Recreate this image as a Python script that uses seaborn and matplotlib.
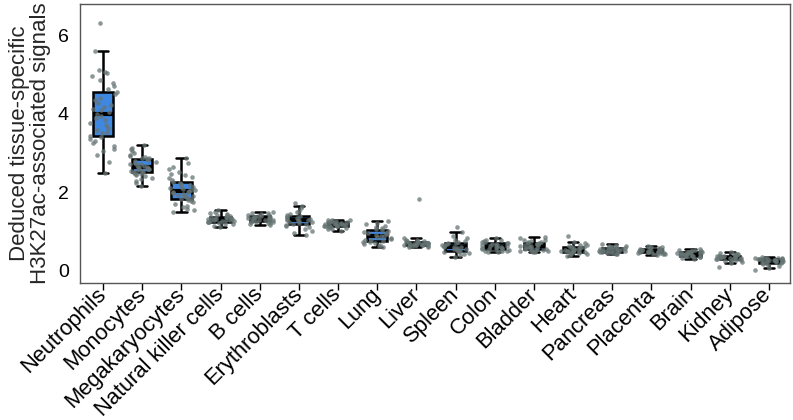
import numpy as np
import pandas as pd
import matplotlib
matplotlib.use("Agg")
import matplotlib.pyplot as plt
import seaborn as sns

categories = ["Neutrophils", "Monocytes", "Megakaryocytes", "Natural killer cells",
              "B cells", "Erythroblasts", "T cells", "Lung", "Liver", "Spleen",
              "Colon", "Bladder", "Heart", "Pancreas", "Placenta", "Brain",
              "Kidney", "Adipose"]

neutrophils = [2.49, 2.78, 2.95, 3.05, 3.1, 3.18, 3.25, 3.3, 3.35, 3.4, 3.44, 3.5, 3.55, 3.6,
               3.65, 3.72, 3.78, 3.85, 3.9, 3.95, 4.0, 4.05, 4.1, 4.12, 4.18, 4.22, 4.28, 4.35,
               4.42, 4.5, 4.57, 4.65, 4.72, 4.8, 4.88, 4.98, 5.05, 5.08, 5.12, 5.62, 6.34]
monocytes = [2.16, 2.22, 2.28, 2.33, 2.37, 2.4, 2.43, 2.45, 2.47, 2.49, 2.5, 2.52, 2.54, 2.55,
             2.57, 2.58, 2.59, 2.6, 2.61, 2.62, 2.63, 2.65, 2.67, 2.69, 2.71, 2.73, 2.75, 2.77,
             2.79, 2.82, 2.84, 2.86, 2.88, 2.9, 2.93, 2.96, 3.0, 3.04, 3.09, 3.14, 3.2]
megakaryocytes = [1.49, 1.53, 1.57, 1.61, 1.65, 1.7, 1.74, 1.77, 1.79, 1.81, 1.83, 1.85, 1.87,
                  1.89, 1.91, 1.93, 1.95, 1.97, 1.99, 2.0, 2.02, 2.04, 2.06, 2.08, 2.1, 2.12,
                  2.14, 2.17, 2.2, 2.22, 2.25, 2.3, 2.35, 2.39, 2.43, 2.47, 2.52, 2.58, 2.65,
                  2.74, 2.87]
nk_cells = [1.10, 1.14, 1.17, 1.19, 1.21, 1.22, 1.23, 1.24, 1.25, 1.26, 1.27, 1.28, 1.29, 1.29,
            1.30, 1.31, 1.32, 1.33, 1.34, 1.35, 1.36, 1.37, 1.38, 1.40, 1.42, 1.44, 1.47, 1.50, 1.54]
b_cells = [1.15, 1.18, 1.20, 1.21, 1.22, 1.23, 1.24, 1.25, 1.26, 1.27, 1.28, 1.29, 1.30, 1.31,
           1.32, 1.33, 1.33, 1.34, 1.35, 1.36, 1.37, 1.38, 1.39, 1.40, 1.42, 1.43, 1.45, 1.47, 1.50]
erythroblasts = [0.89, 0.95, 1.00, 1.05, 1.09, 1.12, 1.15, 1.17, 1.19, 1.21, 1.23, 1.24, 1.26,
                 1.27, 1.28, 1.29, 1.31, 1.32, 1.34, 1.35, 1.37, 1.38, 1.41, 1.44, 1.48, 1.52,
                 1.58, 1.65, 1.73]
t_cells = [1.01, 1.04, 1.06, 1.08, 1.09, 1.10, 1.11, 1.12, 1.13, 1.14, 1.14, 1.15, 1.16, 1.16,
           1.17, 1.18, 1.18, 1.19, 1.20, 1.20, 1.21, 1.22, 1.23, 1.24, 1.25, 1.26, 1.27, 1.28, 1.29]
lung = [0.58, 0.62, 0.65, 0.67, 0.69, 0.71, 0.73, 0.74, 0.76, 0.78, 0.80, 0.82, 0.84, 0.86,
        0.88, 0.90, 0.92, 0.94, 0.96, 0.98, 1.00, 1.02, 1.04, 1.07, 1.10, 1.13, 1.17, 1.21, 1.26]
liver = [0.58, 0.60, 0.61, 0.62, 0.62, 0.63, 0.63, 0.64, 0.64, 0.65, 0.65, 0.66, 0.66, 0.66,
         0.67, 0.68, 0.68, 0.69, 0.70, 0.70, 0.71, 0.72, 0.73, 0.74, 0.75, 0.76, 0.78, 0.81, 1.82]
spleen = [0.33, 0.38, 0.41, 0.44, 0.46, 0.48, 0.49, 0.50, 0.52, 0.53, 0.54, 0.55, 0.56, 0.58,
          0.59, 0.60, 0.62, 0.63, 0.65, 0.67, 0.68, 0.70, 0.72, 0.75, 0.78, 0.82, 0.88, 0.97, 1.11]
colon = [0.45, 0.47, 0.48, 0.49, 0.50, 0.51, 0.52, 0.53, 0.54, 0.55, 0.56, 0.57, 0.58, 0.59,
         0.60, 0.61, 0.62, 0.63, 0.65, 0.66, 0.67, 0.68, 0.69, 0.71, 0.72, 0.74, 0.76, 0.78, 0.81]
bladder = [0.45, 0.47, 0.48, 0.49, 0.50, 0.51, 0.52, 0.53, 0.54, 0.55, 0.56, 0.57, 0.58, 0.60,
           0.61, 0.62, 0.63, 0.64, 0.66, 0.67, 0.68, 0.70, 0.71, 0.73, 0.74, 0.76, 0.78, 0.81, 0.84]
heart = [0.36, 0.39, 0.41, 0.42, 0.43, 0.44, 0.45, 0.46, 0.47, 0.48, 0.49, 0.50, 0.50, 0.51,
         0.52, 0.53, 0.54, 0.55, 0.56, 0.57, 0.58, 0.59, 0.60, 0.62, 0.63, 0.65, 0.68, 0.72, 0.87]
pancreas = [0.40, 0.42, 0.43, 0.44, 0.45, 0.46, 0.46, 0.47, 0.48, 0.49, 0.49, 0.50, 0.50, 0.51,
            0.52, 0.53, 0.53, 0.54, 0.55, 0.55, 0.56, 0.57, 0.58, 0.59, 0.60, 0.61, 0.62, 0.64, 0.66]
placenta = [0.38, 0.40, 0.41, 0.42, 0.43, 0.44, 0.44, 0.45, 0.46, 0.46, 0.47, 0.47, 0.48, 0.48,
            0.49, 0.50, 0.50, 0.51, 0.51, 0.52, 0.52, 0.53, 0.54, 0.55, 0.56, 0.57, 0.58, 0.60, 0.62]
brain = [0.29, 0.31, 0.33, 0.34, 0.35, 0.36, 0.36, 0.37, 0.38, 0.38, 0.39, 0.40, 0.40, 0.41,
         0.42, 0.42, 0.43, 0.43, 0.44, 0.45, 0.45, 0.46, 0.47, 0.48, 0.49, 0.50, 0.51, 0.52, 0.53]
kidney = [0.09, 0.17, 0.20, 0.22, 0.24, 0.25, 0.26, 0.27, 0.28, 0.29, 0.29, 0.30, 0.31, 0.31,
          0.32, 0.33, 0.33, 0.34, 0.35, 0.35, 0.36, 0.37, 0.38, 0.39, 0.40, 0.41, 0.42, 0.43, 0.45]
adipose = [0.00, 0.06, 0.10, 0.13, 0.15, 0.17, 0.18, 0.19, 0.20, 0.21, 0.22, 0.22, 0.23, 0.24,
           0.25, 0.25, 0.26, 0.26, 0.27, 0.27, 0.28, 0.29, 0.29, 0.30, 0.30, 0.31, 0.31, 0.32, 0.33]

groups = [neutrophils, monocytes, megakaryocytes, nk_cells, b_cells, erythroblasts, t_cells,
          lung, liver, spleen, colon, bladder, heart, pancreas, placenta, brain, kidney, adipose]

y_label = "Deduced tissue-specific\nH3K27ac-associated signals"
y_ticks = [0, 2, 4, 6]

df = pd.DataFrame(
    [(cat, v) for cat, vals in zip(categories, groups) for v in vals],
    columns=["cell", "signal"],
)

sns.set_theme(style="white")
plt.rcParams["font.family"] = ["Liberation Sans", "DejaVu Sans"]
np.random.seed(3)

fig = plt.figure(figsize=(7.93, 4.2), dpi=100)
ax = fig.add_axes([80 / 793, 137 / 420, 710 / 793, 279 / 420])

sns.boxplot(data=df, x="cell", y="signal", order=categories, color="#3f88e2",
            saturation=1, width=0.52, showfliers=False, linecolor="black",
            linewidth=1.8, medianprops=dict(linewidth=3.0, color="black"), ax=ax)
sns.stripplot(data=df, x="cell", y="signal", order=categories, color="#667474",
              alpha=0.75, size=3.3, jitter=0.36, linewidth=0, ax=ax, zorder=4)

ax.set_xlim(-0.59, 17.54)
ax.set_ylim(-0.333, 6.82)
ax.set_yticks(y_ticks)
ax.set_xlabel("")
ax.set_ylabel(y_label, fontsize=16, labelpad=5, linespacing=1.0)
ax.tick_params(axis="y", labelsize=14, length=0, pad=8, colors="black")
ax.tick_params(axis="x", labelsize=15.8, length=5, width=1, direction="out",
               colors="black", bottom=True, pad=1)
plt.setp(ax.get_xticklabels(), rotation=45, ha="right", va="center",
         rotation_mode="anchor")
for s in ax.spines.values():
    s.set_color("#555555")
    s.set_linewidth(1.0)

fig.savefig("out.png", dpi=100)
